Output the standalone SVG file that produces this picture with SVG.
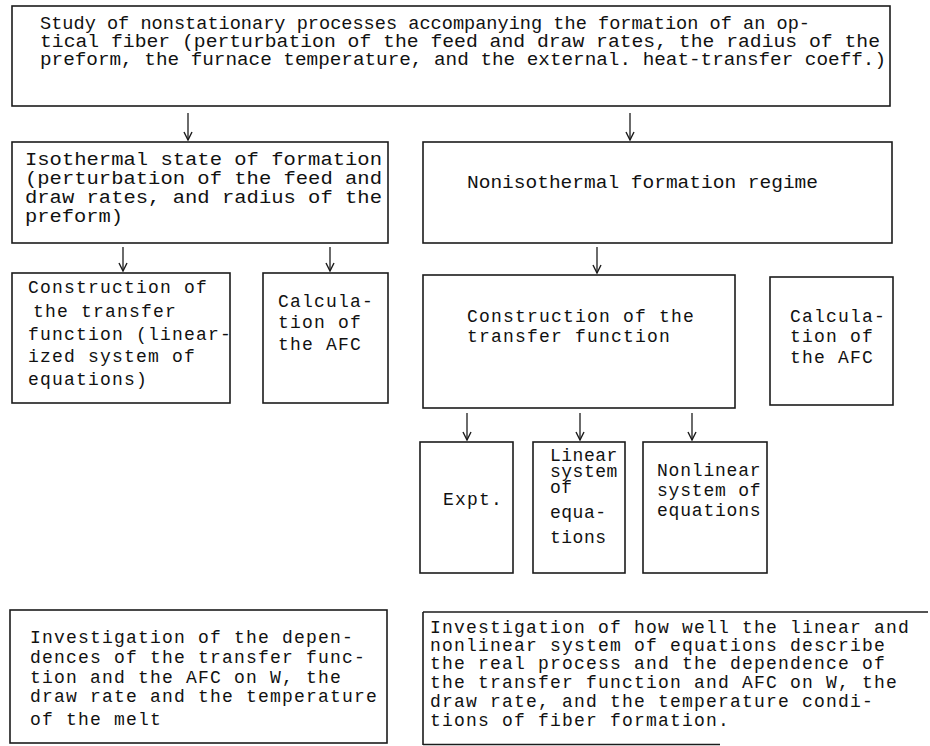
<svg xmlns="http://www.w3.org/2000/svg" width="930" height="746" viewBox="0 0 930 746">
<style>
.box{fill:none;stroke:#1c1c1c;stroke-width:1.6}
.ln{fill:none;stroke:#1c1c1c;stroke-width:1.6}
.t{font-family:"Liberation Mono","DejaVu Sans Mono",monospace;font-size:18px;letter-spacing:1.2px;fill:#111}
.s{letter-spacing:0}
.c{stroke:#1c1c1c;stroke-width:1.3;fill:none}
</style>
<defs>
<marker id="ah" viewBox="0 0 10 10" refX="9" refY="5" markerWidth="10" markerHeight="10" markerUnits="userSpaceOnUse" orient="auto">
<path d="M1,1 L9,5 L1,9" fill="none" stroke="#1c1c1c" stroke-width="1.4"/>
</marker>
</defs>
<rect width="930" height="746" fill="#ffffff"/>

<g id="connectors">
<line class="c" x1="188" y1="113" x2="188" y2="140" marker-end="url(#ah)"/>
<line class="c" x1="630" y1="113" x2="630" y2="140" marker-end="url(#ah)"/>
<line class="c" x1="123" y1="247" x2="123" y2="271" marker-end="url(#ah)"/>
<line class="c" x1="330" y1="247" x2="330" y2="271" marker-end="url(#ah)"/>
<line class="c" x1="597" y1="247" x2="597" y2="273" marker-end="url(#ah)"/>
<line class="c" x1="467" y1="413" x2="467" y2="440" marker-end="url(#ah)"/>
<line class="c" x1="580" y1="413" x2="580" y2="440" marker-end="url(#ah)"/>
<line class="c" x1="692" y1="413" x2="692" y2="440" marker-end="url(#ah)"/>
</g>

<g id="study">
<rect class="box" x="12" y="6" width="878" height="100"/>
<text class="t s" x="40" y="29" textLength="770" lengthAdjust="spacingAndGlyphs">Study of nonstationary processes accompanying the formation of an op-</text>
<text class="t s" x="40" y="47" textLength="840" lengthAdjust="spacingAndGlyphs">tical fiber (perturbation of the feed and draw rates, the radius of the</text>
<text class="t s" x="40" y="65" textLength="846" lengthAdjust="spacingAndGlyphs">preform, the furnace temperature, and the external. heat-transfer  coeff.)</text>
</g>

<g id="isothermal">
<rect class="box" x="12" y="142" width="376" height="101"/>
<text class="t s" x="25" y="165" textLength="357" lengthAdjust="spacingAndGlyphs">Isothermal state of formation</text>
<text class="t s" x="25" y="184" textLength="357" lengthAdjust="spacingAndGlyphs">(perturbation of the feed and</text>
<text class="t s" x="25" y="203" textLength="357" lengthAdjust="spacingAndGlyphs">draw rates, and radius of the</text>
<text class="t s" x="25" y="222" textLength="98" lengthAdjust="spacingAndGlyphs">preform)</text>
</g>

<g id="nonisothermal">
<rect class="box" x="423" y="142" width="469" height="101"/>
<text class="t s" x="467" y="188" textLength="351" lengthAdjust="spacingAndGlyphs">Nonisothermal formation regime</text>
</g>

<g id="construction-iso">
<rect class="box" x="12" y="273" width="218" height="130"/>
<text class="t" x="28" y="293">Construction of</text>
<text class="t" x="33" y="317">the transfer</text>
<text class="t" x="28" y="340">function (linear-</text>
<text class="t" x="28" y="362">ized system of</text>
<text class="t" x="28" y="385">equations)</text>
</g>

<g id="calc-iso">
<rect class="box" x="263" y="273" width="125" height="130"/>
<text class="t" x="278" y="307">Calcula-</text>
<text class="t" x="278" y="328">tion of</text>
<text class="t" x="278" y="350">the AFC</text>
</g>

<g id="construction-noniso">
<rect class="box" x="423" y="275" width="312" height="133"/>
<text class="t" x="467" y="322">Construction of the</text>
<text class="t" x="467" y="342">transfer function</text>
</g>

<g id="calc-noniso">
<rect class="box" x="770" y="277" width="123" height="128"/>
<text class="t" x="790" y="322">Calcula-</text>
<text class="t" x="790" y="342">tion of</text>
<text class="t" x="790" y="363">the AFC</text>
</g>

<g id="expt">
<rect class="box" x="420" y="442" width="93" height="131"/>
<text class="t" x="443" y="505">Expt.</text>
</g>

<g id="linear">
<rect class="box" x="533" y="442" width="92" height="131"/>
<text class="t" x="550" y="461" style="letter-spacing:0.5px">Linear</text>
<text class="t" x="550" y="477" style="letter-spacing:0.5px">system</text>
<text class="t" x="550" y="493" style="letter-spacing:0.5px">of</text>
<text class="t" x="550" y="518" style="letter-spacing:0.5px">equa-</text>
<text class="t" x="550" y="543" style="letter-spacing:0.5px">tions</text>
</g>

<g id="nonlinear">
<rect class="box" x="643" y="442" width="124" height="131"/>
<text class="t" x="657" y="476" style="letter-spacing:0.8px">Nonlinear</text>
<text class="t" x="657" y="496" style="letter-spacing:0.8px">system of</text>
<text class="t" x="657" y="516" style="letter-spacing:0.8px">equations</text>
</g>

<g id="investigation-iso">
<rect class="box" x="10" y="610" width="377" height="133"/>
<text class="t" x="30" y="643">Investigation of the depen-</text>
<text class="t" x="30" y="663">dences of the transfer func-</text>
<text class="t" x="30" y="683">tion and the AFC on W, the</text>
<text class="t" x="30" y="702">draw rate and the temperature</text>
<text class="t" x="30" y="725">of the melt</text>
</g>

<g id="investigation-noniso">
<path class="ln" d="M423,612 L928,612 M423,612 L423,745 M423,744.5 L720,744.5"/>
<text class="t" x="430" y="633">Investigation of how well the linear and</text>
<text class="t" x="430" y="651">nonlinear system of equations describe</text>
<text class="t" x="430" y="669">the real process and the dependence of</text>
<text class="t" x="430" y="688">the transfer function and AFC on W, the</text>
<text class="t" x="430" y="707">draw rate, and the temperature condi-</text>
<text class="t" x="430" y="726">tions of fiber formation.</text>
</g>
</svg>
